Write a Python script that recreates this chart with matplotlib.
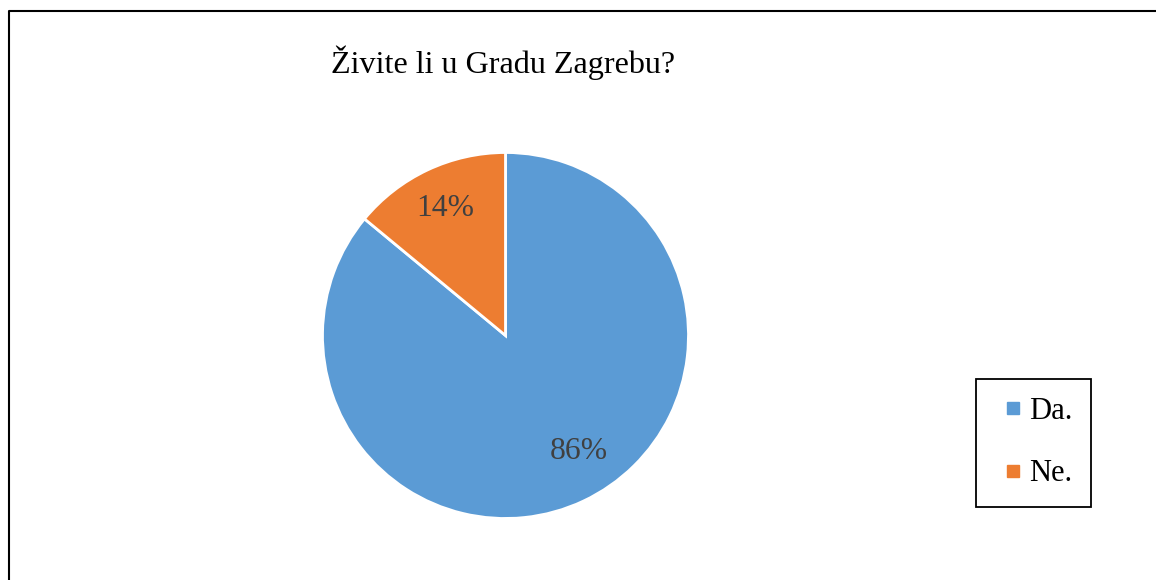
import matplotlib
matplotlib.use("Agg")
import matplotlib.pyplot as plt
import numpy as np
from matplotlib.lines import Line2D

# data
labels = ['Da.', 'Ne.']
shares = [86, 14]
colors = ['#5B9BD5', '#ED7D31']
title = 'Živite li u Gradu Zagrebu?'

plt.rcParams['font.family'] = ['Liberation Serif', 'DejaVu Serif']

W, H = 1156, 580
fig = plt.figure(figsize=(W / 100, H / 100), dpi=100)

# pie axes: centre ~ (505.5, 335.5) px, radius ~183 px
cx, cy, r = 505.5, 335.5, 183
ax = fig.add_axes([(cx - r) / W, (H - cy - r) / H, 2 * r / W, 2 * r / H])
wedges, texts, autotexts = ax.pie(
    shares, colors=colors, startangle=90, counterclock=False,
    autopct='%1.0f%%', pctdistance=0.77,
    wedgeprops=dict(edgecolor='white', linewidth=2),
    textprops=dict(color='#404040', fontsize=22.8),
    radius=1,
)
# Excel "best fit" puts the big slice's label a bit off its mid-angle
w = wedges[0]
ang = np.deg2rad((w.theta1 + w.theta2) / 2 + 7)
autotexts[0].set_position((0.75 * np.cos(ang), 0.75 * np.sin(ang)))

ax.set_xlim(-1, 1)
ax.set_ylim(-1, 1)
ax.set_aspect('auto')
ax.axis('off')

fig.text(503 / W, 1 - 63 / H, title, ha='center', va='center', fontsize=23.1, color='black')

# legend
handles = [Line2D([], [], linestyle='none', marker='s', markersize=8.5,
                  markerfacecolor=c, markeredgecolor=c) for c in colors]
leg = fig.legend(handles, labels, loc='upper left',
                 bbox_to_anchor=(976 / W, 1 - 378.5 / H), bbox_transform=fig.transFigure,
                 fontsize=22, frameon=True, fancybox=False, edgecolor='black',
                 labelspacing=1.1, handlelength=1.24, handletextpad=-0.1,
                 borderpad=0.6, borderaxespad=0, framealpha=1)
leg.get_frame().set_linewidth(1.3)

# chart frame (only top and left edges visible)
fig.add_artist(Line2D([9 / W, 9 / W, 1], [0, 1 - 11 / H, 1 - 11 / H],
                      transform=fig.transFigure, color='black', linewidth=1.5))

fig.savefig('out.png', dpi=100, facecolor='white')
